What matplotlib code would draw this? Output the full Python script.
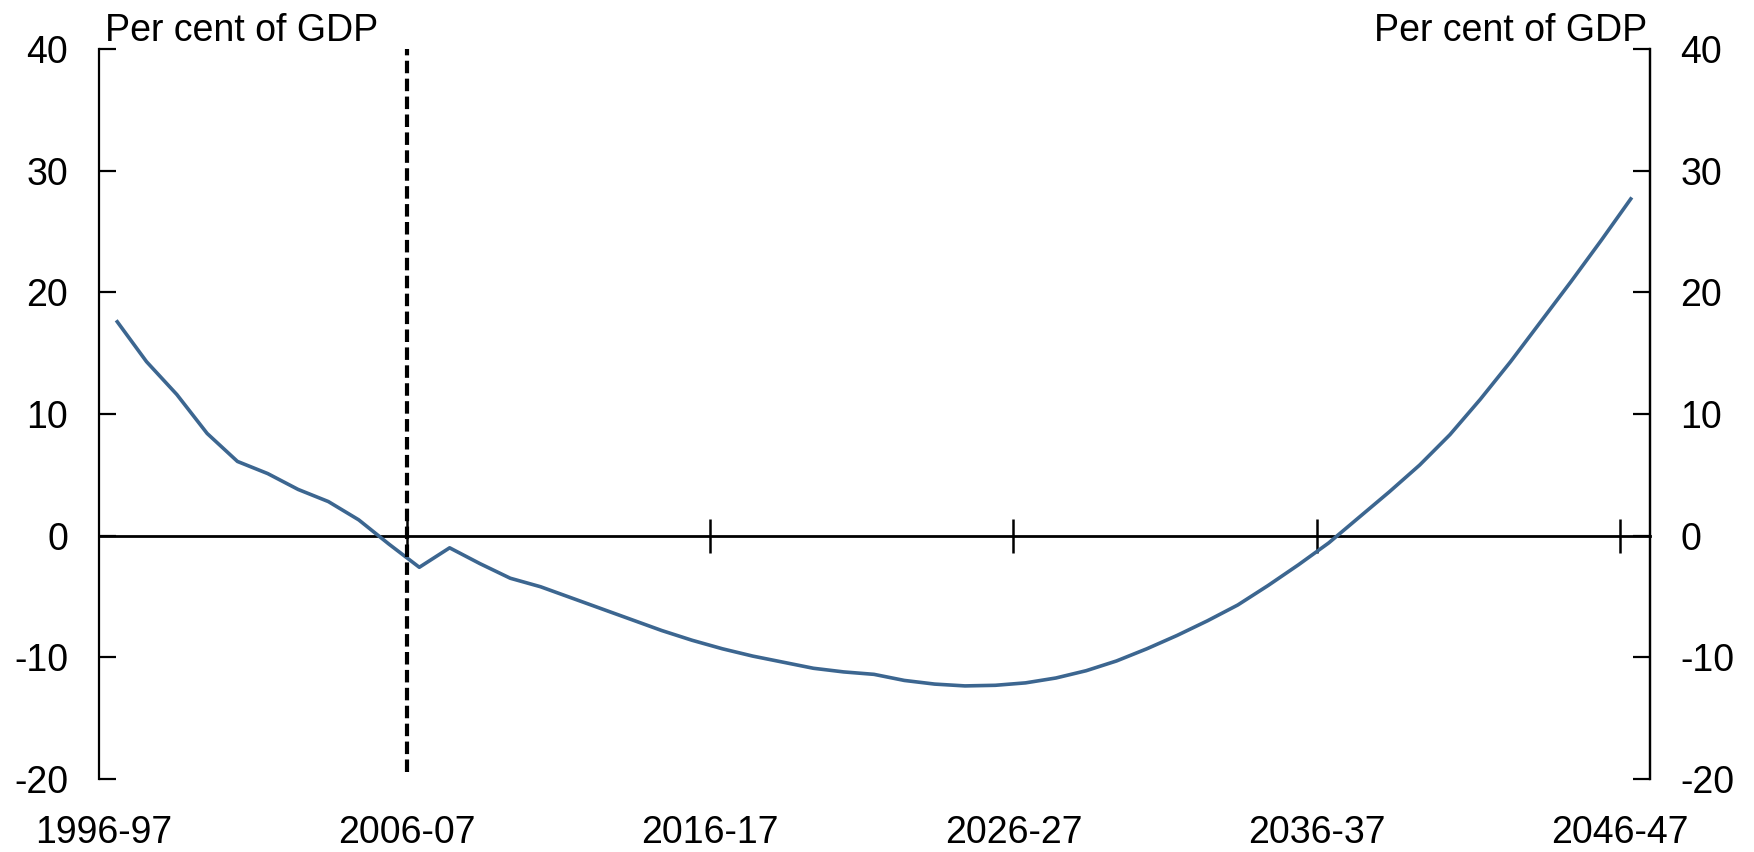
import matplotlib
matplotlib.use('Agg')
import matplotlib.pyplot as plt
import numpy as np

plt.rcParams['font.family'] = ['Liberation Sans', 'DejaVu Sans']
plt.rcParams['axes.unicode_minus'] = False

# Financial years shown on the chart (1996-97 to 2046-47)
years = [f'{y}-{str(y + 1)[-2:]}' for y in range(1996, 2047)]

# Series, per cent of GDP
values = [17.7, 14.3, 11.6, 8.4, 6.1, 5.1, 3.8, 2.8, 1.3, -0.7,
          -2.6, -1.0, -2.3, -3.5, -4.2, -5.1, -6.0, -6.9, -7.8, -8.6,
          -9.3, -9.9, -10.4, -10.9, -11.2, -11.4, -11.9, -12.2, -12.35, -12.3,
          -12.1, -11.7, -11.1, -10.3, -9.3, -8.2, -7.0, -5.7, -4.1, -2.4,
          -0.6, 1.5, 3.6, 5.8, 8.3, 11.2, 14.3, 17.6, 20.9, 24.3,
          27.8]

tick_labels = ['1996-97', '2006-07', '2016-17', '2026-27', '2036-37', '2046-47']
y_ticks = [-20, -10, 0, 10, 20, 30, 40]
projection_start = '2006-07'
unit_label = 'Per cent of GDP'

line_color = '#3C6690'
fs = 27

# positions: each year sits a little after its tick
x = np.arange(len(years)) + 0.4
tick_pos = [years.index(t) for t in tick_labels]

fig = plt.figure(figsize=(17.54, 8.52), dpi=100)
ax = fig.add_axes([0.0564, 0.0857, 0.8843, 0.8568])

ax.plot(x, values, color=line_color, lw=2.6, solid_joinstyle='round',
        solid_capstyle='butt')

# vertical dashed line at the start of projections
ax.axvline(years.index(projection_start), ymin=0.01, ymax=1.0, color='black',
           lw=3.0, linestyle=(0, (3.0, 1.3)))

ax.set_xlim(-0.17, 51.0)
ax.set_ylim(-20, 40)

# spines
ax.spines['top'].set_visible(False)
ax.spines['bottom'].set_visible(False)
ax.spines['left'].set_linewidth(1.6)
ax.spines['right'].set_linewidth(1.6)

# left y axis
ax.set_yticks(y_ticks)
ax.tick_params(axis='y', direction='in', length=12, width=1.6, labelsize=fs, pad=22)

# right y axis
ax2 = ax.twinx()
ax2.set_ylim(ax.get_ylim())
ax2.set_yticks(y_ticks)
for s in ['top', 'bottom', 'left']:
    ax2.spines[s].set_visible(False)
ax2.spines['right'].set_linewidth(1.6)
ax2.tick_params(axis='y', direction='in', length=12, width=1.6, labelsize=fs, pad=22)

# x labels at the bottom, tick marks on the zero line (none at the first year)
ax.set_xticks(tick_pos)
ax.set_xticklabels(tick_labels)
ax.tick_params(axis='x', length=0, labelsize=fs, pad=26)

zero_axis = ax.secondary_xaxis(0, transform=ax.transData)
zero_axis.set_xticks(tick_pos[1:])
zero_axis.set_xticklabels([])
zero_axis.spines['bottom'].set_linewidth(2.0)
zero_axis.tick_params(axis='x', direction='inout', length=24, width=1.8)

# unit labels
fig.text(105 / 1754, 1 - 41 / 852, unit_label, fontsize=fs, ha='left', va='baseline')
fig.text(1647 / 1754, 1 - 41 / 852, unit_label, fontsize=fs, ha='right', va='baseline')

plt.savefig('out.png', dpi=100)
plt.close(fig)
